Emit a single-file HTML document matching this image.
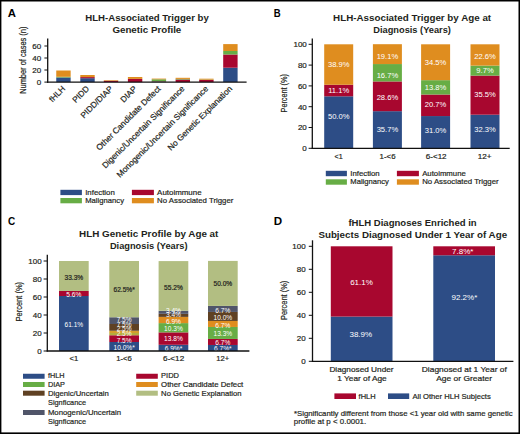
<!DOCTYPE html>
<html><head><meta charset="utf-8"><style>
html,body{margin:0;padding:0;background:#fff;}
body{width:520px;height:434px;overflow:hidden;position:relative;}
svg{position:absolute;left:0;top:0;display:block;}
text{font-family:"Liberation Sans",sans-serif;}
</style></head><body>
<svg width="520" height="434" viewBox="0 0 520 434" font-family="Liberation Sans, sans-serif">
<rect x="0" y="0" width="520" height="434" fill="#fff"/>
<text x="7.80" y="16.60" font-size="10.8" font-weight="bold" fill="#000" text-anchor="start" textLength="8.20" lengthAdjust="spacingAndGlyphs">A</text>
<text x="273.70" y="16.60" font-size="10.8" font-weight="bold" fill="#000" text-anchor="start" textLength="6.90" lengthAdjust="spacingAndGlyphs">B</text>
<text x="8.00" y="224.60" font-size="10.8" font-weight="bold" fill="#000" text-anchor="start" textLength="7.20" lengthAdjust="spacingAndGlyphs">C</text>
<text x="273.70" y="224.60" font-size="10.8" font-weight="bold" fill="#000" text-anchor="start" textLength="8.40" lengthAdjust="spacingAndGlyphs">D</text>
<text x="85.30" y="21.20" font-size="8.8" font-weight="bold" fill="#231F20" text-anchor="start" textLength="123.50" lengthAdjust="spacingAndGlyphs">HLH-Associated Trigger by</text>
<text x="112.40" y="32.60" font-size="8.8" font-weight="bold" fill="#231F20" text-anchor="start" textLength="68.90" lengthAdjust="spacingAndGlyphs">Genetic Profile</text>
<text x="333.10" y="21.30" font-size="8.8" font-weight="bold" fill="#231F20" text-anchor="start" textLength="158.00" lengthAdjust="spacingAndGlyphs">HLH-Associated Trigger by Age at</text>
<text x="373.30" y="32.80" font-size="8.8" font-weight="bold" fill="#231F20" text-anchor="start" textLength="77.60" lengthAdjust="spacingAndGlyphs">Diagnosis (Years)</text>
<text x="79.10" y="237.30" font-size="8.8" font-weight="bold" fill="#231F20" text-anchor="start" textLength="139.30" lengthAdjust="spacingAndGlyphs">HLH Genetic Profile by Age at</text>
<text x="109.90" y="248.90" font-size="8.8" font-weight="bold" fill="#231F20" text-anchor="start" textLength="77.70" lengthAdjust="spacingAndGlyphs">Diagnosis (Years)</text>
<text x="348.40" y="225.50" font-size="8.8" font-weight="bold" fill="#231F20" text-anchor="start" textLength="128.30" lengthAdjust="spacingAndGlyphs">fHLH Diagnoses Enriched in</text>
<text x="318.40" y="237.60" font-size="8.8" font-weight="bold" fill="#231F20" text-anchor="start" textLength="188.70" lengthAdjust="spacingAndGlyphs">Subjects Diagnosed Under 1 Year of Age</text>
<rect x="56.25" y="77.50" width="14.40" height="4.60" fill="#2D4D86"/>
<rect x="56.25" y="76.80" width="14.40" height="0.70" fill="#67AD45"/>
<rect x="56.25" y="70.50" width="14.40" height="6.30" fill="#DF8D1F"/>
<rect x="80.30" y="78.20" width="14.40" height="3.90" fill="#2D4D86"/>
<rect x="80.30" y="77.10" width="14.40" height="1.10" fill="#A8072F"/>
<rect x="80.30" y="75.00" width="14.40" height="2.10" fill="#DF8D1F"/>
<rect x="103.80" y="80.80" width="14.40" height="1.30" fill="#A8072F"/>
<rect x="103.80" y="80.20" width="14.40" height="0.60" fill="#DF8D1F"/>
<rect x="127.90" y="78.90" width="14.40" height="3.20" fill="#A8072F"/>
<rect x="127.90" y="77.00" width="14.40" height="1.90" fill="#DF8D1F"/>
<rect x="151.70" y="81.70" width="14.40" height="0.40" fill="#2D4D86"/>
<rect x="151.70" y="81.30" width="14.40" height="0.40" fill="#A8072F"/>
<rect x="151.70" y="79.30" width="14.40" height="2.00" fill="#67AD45"/>
<rect x="151.70" y="78.60" width="14.40" height="0.70" fill="#DF8D1F"/>
<rect x="175.60" y="79.50" width="14.40" height="2.60" fill="#A8072F"/>
<rect x="175.60" y="78.90" width="14.40" height="0.60" fill="#67AD45"/>
<rect x="175.60" y="77.80" width="14.40" height="1.10" fill="#DF8D1F"/>
<rect x="199.20" y="79.90" width="14.40" height="2.20" fill="#A8072F"/>
<rect x="199.20" y="79.60" width="14.40" height="0.30" fill="#67AD45"/>
<rect x="199.20" y="78.70" width="14.40" height="0.90" fill="#DF8D1F"/>
<rect x="223.20" y="67.70" width="14.40" height="14.40" fill="#2D4D86"/>
<rect x="223.20" y="54.50" width="14.40" height="13.20" fill="#A8072F"/>
<rect x="223.20" y="51.00" width="14.40" height="3.50" fill="#67AD45"/>
<rect x="223.20" y="44.10" width="14.40" height="6.90" fill="#DF8D1F"/>
<line x1="47.7" y1="38.6" x2="47.7" y2="82.8" stroke="#111111" stroke-width="1.3"/>
<line x1="47.0" y1="82.1" x2="246.6" y2="82.1" stroke="#111111" stroke-width="1.3"/>
<line x1="44.4" y1="46" x2="47.7" y2="46" stroke="#111111" stroke-width="1.0"/>
<text x="41.20" y="48.90" font-size="8" fill="#231F20" stroke="#231F20" stroke-width="0.2" text-anchor="end">60</text>
<line x1="44.4" y1="58" x2="47.7" y2="58" stroke="#111111" stroke-width="1.0"/>
<text x="41.20" y="60.90" font-size="8" fill="#231F20" stroke="#231F20" stroke-width="0.2" text-anchor="end">40</text>
<line x1="44.4" y1="70" x2="47.7" y2="70" stroke="#111111" stroke-width="1.0"/>
<text x="41.20" y="72.90" font-size="8" fill="#231F20" stroke="#231F20" stroke-width="0.2" text-anchor="end">20</text>
<line x1="44.4" y1="82.1" x2="47.7" y2="82.1" stroke="#111111" stroke-width="1.0"/>
<text x="41.20" y="85.00" font-size="8" fill="#231F20" stroke="#231F20" stroke-width="0.2" text-anchor="end">0</text>
<text transform="translate(26.30,60.20) rotate(-90)" x="0" y="0" font-size="8.5" fill="#231F20" stroke="#231F20" stroke-width="0.2" text-anchor="middle" textLength="67.20" lengthAdjust="spacingAndGlyphs">Number of cases (n)</text>
<text transform="translate(65.75,89.30) rotate(-45)" x="0" y="0" font-size="8.3" fill="#231F20" stroke="#231F20" stroke-width="0.2" text-anchor="end">fHLH</text>
<text transform="translate(89.80,89.30) rotate(-45)" x="0" y="0" font-size="8.3" fill="#231F20" stroke="#231F20" stroke-width="0.2" text-anchor="end">PIDD</text>
<text transform="translate(113.30,89.30) rotate(-45)" x="0" y="0" font-size="8.3" fill="#231F20" stroke="#231F20" stroke-width="0.2" text-anchor="end">PIDD/DIAP</text>
<text transform="translate(137.40,89.30) rotate(-45)" x="0" y="0" font-size="8.3" fill="#231F20" stroke="#231F20" stroke-width="0.2" text-anchor="end">DIAP</text>
<text transform="translate(161.20,89.30) rotate(-45)" x="0" y="0" font-size="8.3" fill="#231F20" stroke="#231F20" stroke-width="0.2" text-anchor="end">Other Candidate Defect</text>
<text transform="translate(185.10,89.30) rotate(-45)" x="0" y="0" font-size="8.3" fill="#231F20" stroke="#231F20" stroke-width="0.2" text-anchor="end">Digenic/Uncertain Significance</text>
<text transform="translate(208.70,89.30) rotate(-45)" x="0" y="0" font-size="8.3" fill="#231F20" stroke="#231F20" stroke-width="0.2" text-anchor="end">Monogenic/Uncertain Significance</text>
<text transform="translate(232.70,89.30) rotate(-45)" x="0" y="0" font-size="8.3" fill="#231F20" stroke="#231F20" stroke-width="0.2" text-anchor="end">No Genetic Explanation</text>
<rect x="60.40" y="189.80" width="21.50" height="5.30" fill="#2D4D86"/>
<rect x="60.40" y="198.00" width="21.50" height="5.30" fill="#67AD45"/>
<rect x="131.90" y="189.80" width="22.00" height="5.30" fill="#A8072F"/>
<rect x="131.90" y="198.00" width="22.00" height="5.30" fill="#DF8D1F"/>
<text x="85.20" y="194.70" font-size="7.9" fill="#231F20" stroke="#231F20" stroke-width="0.2" text-anchor="start" textLength="29.60" lengthAdjust="spacingAndGlyphs">Infection</text>
<text x="85.20" y="203.00" font-size="7.9" fill="#231F20" stroke="#231F20" stroke-width="0.2" text-anchor="start" textLength="38.80" lengthAdjust="spacingAndGlyphs">Malignancy</text>
<text x="157.10" y="194.70" font-size="7.9" fill="#231F20" stroke="#231F20" stroke-width="0.2" text-anchor="start" textLength="44.50" lengthAdjust="spacingAndGlyphs">Autoimmune</text>
<text x="157.10" y="203.00" font-size="7.9" fill="#231F20" stroke="#231F20" stroke-width="0.2" text-anchor="start" textLength="76.30" lengthAdjust="spacingAndGlyphs">No Associated Trigger</text>
<rect x="324.20" y="96.30" width="29.00" height="52.00" fill="#2D4D86"/>
<rect x="324.20" y="84.76" width="29.00" height="11.54" fill="#A8072F"/>
<rect x="324.20" y="44.30" width="29.00" height="40.46" fill="#DF8D1F"/>
<text x="338.70" y="119.40" font-size="7.6" fill="#fff" text-anchor="middle">50.0%</text>
<text x="338.70" y="92.80" font-size="7.6" fill="#fff" text-anchor="middle">11.1%</text>
<text x="338.70" y="66.70" font-size="7.6" fill="#fff" text-anchor="middle">38.9%</text>
<rect x="372.90" y="111.17" width="29.00" height="37.13" fill="#2D4D86"/>
<rect x="372.90" y="81.43" width="29.00" height="29.74" fill="#A8072F"/>
<rect x="372.90" y="64.06" width="29.00" height="17.37" fill="#67AD45"/>
<rect x="372.90" y="44.20" width="29.00" height="19.86" fill="#DF8D1F"/>
<text x="387.40" y="131.80" font-size="7.6" fill="#fff" text-anchor="middle">35.7%</text>
<text x="387.40" y="100.40" font-size="7.6" fill="#fff" text-anchor="middle">28.6%</text>
<text x="387.40" y="78.10" font-size="7.6" fill="#fff" text-anchor="middle">16.7%</text>
<text x="387.40" y="59.20" font-size="7.6" fill="#fff" text-anchor="middle">19.1%</text>
<rect x="421.10" y="116.06" width="29.00" height="32.24" fill="#2D4D86"/>
<rect x="421.10" y="94.53" width="29.00" height="21.53" fill="#A8072F"/>
<rect x="421.10" y="80.18" width="29.00" height="14.35" fill="#67AD45"/>
<rect x="421.10" y="44.30" width="29.00" height="35.88" fill="#DF8D1F"/>
<text x="435.60" y="133.20" font-size="7.6" fill="#fff" text-anchor="middle">31.0%</text>
<text x="435.60" y="107.30" font-size="7.6" fill="#fff" text-anchor="middle">20.7%</text>
<text x="435.60" y="89.60" font-size="7.6" fill="#fff" text-anchor="middle">13.8%</text>
<text x="435.60" y="65.00" font-size="7.6" fill="#fff" text-anchor="middle">34.5%</text>
<rect x="470.50" y="114.70" width="29.00" height="33.60" fill="#2D4D86"/>
<rect x="470.50" y="75.60" width="29.00" height="39.10" fill="#A8072F"/>
<rect x="470.50" y="65.60" width="29.00" height="10.00" fill="#67AD45"/>
<rect x="470.50" y="44.30" width="29.00" height="21.30" fill="#DF8D1F"/>
<text x="485.00" y="131.90" font-size="7.6" fill="#fff" text-anchor="middle">32.3%</text>
<text x="485.00" y="97.20" font-size="7.6" fill="#fff" text-anchor="middle">35.5%</text>
<text x="485.00" y="73.30" font-size="7.6" fill="#fff" text-anchor="middle">9.7%</text>
<text x="485.00" y="59.20" font-size="7.6" fill="#fff" text-anchor="middle">22.6%</text>
<line x1="312.3" y1="38.5" x2="312.3" y2="148.9" stroke="#111111" stroke-width="1.3"/>
<line x1="311.7" y1="148.3" x2="509.7" y2="148.3" stroke="#111111" stroke-width="1.3"/>
<line x1="308.6" y1="148.3" x2="312.3" y2="148.3" stroke="#111111" stroke-width="1.0"/>
<text x="306.80" y="151.20" font-size="8" fill="#231F20" stroke="#231F20" stroke-width="0.2" text-anchor="end">0</text>
<line x1="308.6" y1="127.50000000000001" x2="312.3" y2="127.50000000000001" stroke="#111111" stroke-width="1.0"/>
<text x="306.80" y="130.40" font-size="8" fill="#231F20" stroke="#231F20" stroke-width="0.2" text-anchor="end">20</text>
<line x1="308.6" y1="106.70000000000002" x2="312.3" y2="106.70000000000002" stroke="#111111" stroke-width="1.0"/>
<text x="306.80" y="109.60" font-size="8" fill="#231F20" stroke="#231F20" stroke-width="0.2" text-anchor="end">40</text>
<line x1="308.6" y1="85.9" x2="312.3" y2="85.9" stroke="#111111" stroke-width="1.0"/>
<text x="306.80" y="88.80" font-size="8" fill="#231F20" stroke="#231F20" stroke-width="0.2" text-anchor="end">60</text>
<line x1="308.6" y1="65.10000000000001" x2="312.3" y2="65.10000000000001" stroke="#111111" stroke-width="1.0"/>
<text x="306.80" y="68.00" font-size="8" fill="#231F20" stroke="#231F20" stroke-width="0.2" text-anchor="end">80</text>
<line x1="308.6" y1="44.30000000000001" x2="312.3" y2="44.30000000000001" stroke="#111111" stroke-width="1.0"/>
<text x="306.80" y="47.20" font-size="8" fill="#231F20" stroke="#231F20" stroke-width="0.2" text-anchor="end">100</text>
<text transform="translate(287.30,93.30) rotate(-90)" x="0" y="0" font-size="9.0" fill="#231F20" stroke="#231F20" stroke-width="0.2" text-anchor="middle" textLength="38.20" lengthAdjust="spacingAndGlyphs">Percent (%)</text>
<text x="334.60" y="158.70" font-size="8" fill="#231F20" stroke="#231F20" stroke-width="0.2" text-anchor="start" textLength="8.10" lengthAdjust="spacingAndGlyphs">&lt;1</text>
<text x="379.60" y="158.70" font-size="8" fill="#231F20" stroke="#231F20" stroke-width="0.2" text-anchor="start" textLength="16.00" lengthAdjust="spacingAndGlyphs">1-&lt;6</text>
<text x="425.80" y="158.70" font-size="8" fill="#231F20" stroke="#231F20" stroke-width="0.2" text-anchor="start" textLength="20.80" lengthAdjust="spacingAndGlyphs">6-&lt;12</text>
<text x="477.80" y="158.70" font-size="8" fill="#231F20" stroke="#231F20" stroke-width="0.2" text-anchor="start" textLength="13.80" lengthAdjust="spacingAndGlyphs">12+</text>
<rect x="325.80" y="170.80" width="21.10" height="5.40" fill="#2D4D86"/>
<rect x="325.80" y="179.30" width="21.10" height="5.40" fill="#67AD45"/>
<rect x="396.90" y="170.80" width="22.00" height="5.40" fill="#A8072F"/>
<rect x="396.90" y="179.30" width="22.00" height="5.40" fill="#DF8D1F"/>
<text x="350.30" y="176.20" font-size="7.9" fill="#231F20" stroke="#231F20" stroke-width="0.2" text-anchor="start" textLength="29.40" lengthAdjust="spacingAndGlyphs">Infection</text>
<text x="350.30" y="184.20" font-size="7.9" fill="#231F20" stroke="#231F20" stroke-width="0.2" text-anchor="start" textLength="38.60" lengthAdjust="spacingAndGlyphs">Malignancy</text>
<text x="422.20" y="176.20" font-size="7.9" fill="#231F20" stroke="#231F20" stroke-width="0.2" text-anchor="start" textLength="43.60" lengthAdjust="spacingAndGlyphs">Autoimmune</text>
<text x="422.20" y="184.20" font-size="7.9" fill="#231F20" stroke="#231F20" stroke-width="0.2" text-anchor="start" textLength="76.40" lengthAdjust="spacingAndGlyphs">No Associated Trigger</text>
<rect x="59.00" y="296.01" width="29.70" height="54.99" fill="#2D4D86"/>
<rect x="59.00" y="290.97" width="29.70" height="5.04" fill="#A8072F"/>
<rect x="59.00" y="261.00" width="29.70" height="29.97" fill="#B2BE82"/>
<text x="73.85" y="327.00" font-size="6.6" fill="#fff" text-anchor="middle">61.1%</text>
<text x="73.85" y="296.60" font-size="6.6" fill="#fff" text-anchor="middle">5.6%</text>
<text x="73.85" y="280.40" font-size="6.6" fill="#231F20" stroke="#231F20" stroke-width="0.2" text-anchor="middle">33.3%</text>
<rect x="109.30" y="342.00" width="29.70" height="9.00" fill="#2D4D86"/>
<rect x="109.30" y="335.25" width="29.70" height="6.75" fill="#A8072F"/>
<rect x="109.30" y="333.00" width="29.70" height="2.25" fill="#B3AE3E"/>
<rect x="109.30" y="330.75" width="29.70" height="2.25" fill="#D49E2C"/>
<rect x="109.30" y="324.00" width="29.70" height="6.75" fill="#5F4123"/>
<rect x="109.30" y="317.25" width="29.70" height="6.75" fill="#505569"/>
<rect x="109.30" y="261.00" width="29.70" height="56.25" fill="#B2BE82"/>
<text x="124.15" y="349.60" font-size="6.6" fill="#fff" text-anchor="middle">10.0%*</text>
<text x="124.15" y="343.10" font-size="6.6" fill="#fff" text-anchor="middle">7.5%</text>
<text x="124.15" y="335.70" font-size="6.6" fill="#fff" text-anchor="middle">2.5%</text>
<text x="124.15" y="331.10" font-size="6.6" fill="#fff" text-anchor="middle">2.5%</text>
<text x="124.15" y="326.50" font-size="6.6" fill="#fff" text-anchor="middle">7.5%</text>
<text x="124.15" y="321.90" font-size="6.6" fill="#fff" text-anchor="middle">7.5%</text>
<text x="124.15" y="292.00" font-size="6.6" fill="#231F20" stroke="#231F20" stroke-width="0.2" text-anchor="middle">62.5%*</text>
<rect x="158.60" y="344.79" width="29.70" height="6.21" fill="#2D4D86"/>
<rect x="158.60" y="332.37" width="29.70" height="12.42" fill="#A8072F"/>
<rect x="158.60" y="323.10" width="29.70" height="9.27" fill="#67AD45"/>
<rect x="158.60" y="316.89" width="29.70" height="6.21" fill="#DF8D1F"/>
<rect x="158.60" y="313.83" width="29.70" height="3.06" fill="#5F4123"/>
<rect x="158.60" y="310.77" width="29.70" height="3.06" fill="#505569"/>
<rect x="158.60" y="261.09" width="29.70" height="49.68" fill="#B2BE82"/>
<text x="173.45" y="350.70" font-size="6.6" fill="#fff" text-anchor="middle">6.9%*</text>
<text x="173.45" y="340.80" font-size="6.6" fill="#fff" text-anchor="middle">13.8%</text>
<text x="173.45" y="331.10" font-size="6.6" fill="#fff" text-anchor="middle">10.3%</text>
<text x="173.45" y="324.20" font-size="6.6" fill="#fff" text-anchor="middle">6.9%</text>
<text x="173.45" y="316.80" font-size="6.6" fill="#fff" text-anchor="middle">3.4%</text>
<text x="173.45" y="312.70" font-size="6.6" fill="#fff" text-anchor="middle">3.4%</text>
<text x="173.45" y="289.70" font-size="6.6" fill="#231F20" stroke="#231F20" stroke-width="0.2" text-anchor="middle">55.2%</text>
<rect x="208.00" y="344.97" width="29.70" height="6.03" fill="#2D4D86"/>
<rect x="208.00" y="338.94" width="29.70" height="6.03" fill="#A8072F"/>
<rect x="208.00" y="326.97" width="29.70" height="11.97" fill="#67AD45"/>
<rect x="208.00" y="320.94" width="29.70" height="6.03" fill="#DF8D1F"/>
<rect x="208.00" y="311.94" width="29.70" height="9.00" fill="#5F4123"/>
<rect x="208.00" y="305.91" width="29.70" height="6.03" fill="#505569"/>
<rect x="208.00" y="260.91" width="29.70" height="45.00" fill="#B2BE82"/>
<text x="222.85" y="350.70" font-size="6.6" fill="#fff" text-anchor="middle">6.7%*</text>
<text x="222.85" y="345.00" font-size="6.6" fill="#fff" text-anchor="middle">6.7%</text>
<text x="222.85" y="335.70" font-size="6.6" fill="#fff" text-anchor="middle">13.3%</text>
<text x="222.85" y="327.70" font-size="6.6" fill="#fff" text-anchor="middle">6.7%</text>
<text x="222.85" y="319.60" font-size="6.6" fill="#fff" text-anchor="middle">10.0%</text>
<text x="222.85" y="312.70" font-size="6.6" fill="#fff" text-anchor="middle">6.7%</text>
<text x="222.85" y="286.20" font-size="6.6" fill="#231F20" stroke="#231F20" stroke-width="0.2" text-anchor="middle">50.0%</text>
<line x1="47.3" y1="254.8" x2="47.3" y2="351.6" stroke="#111111" stroke-width="1.3"/>
<line x1="46.7" y1="351.0" x2="249.4" y2="351.0" stroke="#111111" stroke-width="1.3"/>
<line x1="43.6" y1="351.0" x2="47.3" y2="351.0" stroke="#111111" stroke-width="1.0"/>
<text x="41.60" y="353.90" font-size="8" fill="#231F20" stroke="#231F20" stroke-width="0.2" text-anchor="end">0</text>
<line x1="43.6" y1="333.0" x2="47.3" y2="333.0" stroke="#111111" stroke-width="1.0"/>
<text x="41.60" y="335.90" font-size="8" fill="#231F20" stroke="#231F20" stroke-width="0.2" text-anchor="end">20</text>
<line x1="43.6" y1="315.0" x2="47.3" y2="315.0" stroke="#111111" stroke-width="1.0"/>
<text x="41.60" y="317.90" font-size="8" fill="#231F20" stroke="#231F20" stroke-width="0.2" text-anchor="end">40</text>
<line x1="43.6" y1="297.0" x2="47.3" y2="297.0" stroke="#111111" stroke-width="1.0"/>
<text x="41.60" y="299.90" font-size="8" fill="#231F20" stroke="#231F20" stroke-width="0.2" text-anchor="end">60</text>
<line x1="43.6" y1="279.0" x2="47.3" y2="279.0" stroke="#111111" stroke-width="1.0"/>
<text x="41.60" y="281.90" font-size="8" fill="#231F20" stroke="#231F20" stroke-width="0.2" text-anchor="end">80</text>
<line x1="43.6" y1="261.0" x2="47.3" y2="261.0" stroke="#111111" stroke-width="1.0"/>
<text x="41.60" y="263.90" font-size="8" fill="#231F20" stroke="#231F20" stroke-width="0.2" text-anchor="end">100</text>
<text transform="translate(21.60,301.70) rotate(-90)" x="0" y="0" font-size="9.0" fill="#231F20" stroke="#231F20" stroke-width="0.2" text-anchor="middle" textLength="39.60" lengthAdjust="spacingAndGlyphs">Percent (%)</text>
<text x="69.50" y="360.70" font-size="8" fill="#231F20" stroke="#231F20" stroke-width="0.2" text-anchor="start" textLength="8.70" lengthAdjust="spacingAndGlyphs">&lt;1</text>
<text x="116.20" y="360.70" font-size="8" fill="#231F20" stroke="#231F20" stroke-width="0.2" text-anchor="start" textLength="15.60" lengthAdjust="spacingAndGlyphs">1-&lt;6</text>
<text x="163.10" y="360.70" font-size="8" fill="#231F20" stroke="#231F20" stroke-width="0.2" text-anchor="start" textLength="21.10" lengthAdjust="spacingAndGlyphs">6-&lt;12</text>
<text x="216.30" y="360.70" font-size="8" fill="#231F20" stroke="#231F20" stroke-width="0.2" text-anchor="start" textLength="12.90" lengthAdjust="spacingAndGlyphs">12+</text>
<rect x="23.00" y="373.75" width="21.60" height="5.00" fill="#2D4D86"/>
<text x="47.90" y="378.40" font-size="7.9" fill="#231F20" stroke="#231F20" stroke-width="0.2" text-anchor="start" textLength="16.60" lengthAdjust="spacingAndGlyphs">fHLH</text>
<rect x="23.00" y="382.00" width="21.60" height="5.00" fill="#67AD45"/>
<text x="47.90" y="386.80" font-size="7.9" fill="#231F20" stroke="#231F20" stroke-width="0.2" text-anchor="start" textLength="17.10" lengthAdjust="spacingAndGlyphs">DIAP</text>
<rect x="23.00" y="390.70" width="21.60" height="5.00" fill="#5F4123"/>
<text x="47.90" y="395.50" font-size="7.9" fill="#231F20" stroke="#231F20" stroke-width="0.2" text-anchor="start" textLength="60.90" lengthAdjust="spacingAndGlyphs">Digenic/Uncertain</text>
<rect x="23.00" y="410.00" width="21.60" height="5.00" fill="#505569"/>
<text x="47.90" y="414.80" font-size="7.9" fill="#231F20" stroke="#231F20" stroke-width="0.2" text-anchor="start" textLength="73.20" lengthAdjust="spacingAndGlyphs">Monogenic/Uncertain</text>
<rect x="136.20" y="373.75" width="21.60" height="5.00" fill="#A8072F"/>
<text x="161.10" y="378.40" font-size="7.9" fill="#231F20" stroke="#231F20" stroke-width="0.2" text-anchor="start" textLength="17.90" lengthAdjust="spacingAndGlyphs">PIDD</text>
<rect x="136.20" y="382.00" width="21.60" height="5.00" fill="#DF8D1F"/>
<text x="161.10" y="386.80" font-size="7.9" fill="#231F20" stroke="#231F20" stroke-width="0.2" text-anchor="start" textLength="82.20" lengthAdjust="spacingAndGlyphs">Other Candidate Defect</text>
<rect x="136.20" y="390.70" width="21.60" height="5.00" fill="#B2BE82"/>
<text x="161.10" y="395.50" font-size="7.9" fill="#231F20" stroke="#231F20" stroke-width="0.2" text-anchor="start" textLength="80.50" lengthAdjust="spacingAndGlyphs">No Genetic Explanation</text>
<text x="48.00" y="405.00" font-size="7.9" fill="#231F20" stroke="#231F20" stroke-width="0.2" text-anchor="start" textLength="38.00" lengthAdjust="spacingAndGlyphs">Signficance</text>
<text x="48.00" y="423.60" font-size="7.9" fill="#231F20" stroke="#231F20" stroke-width="0.2" text-anchor="start" textLength="38.00" lengthAdjust="spacingAndGlyphs">Signficance</text>
<rect x="330.80" y="316.56" width="61.70" height="44.73" fill="#2D4D86"/>
<rect x="330.80" y="246.30" width="61.70" height="70.27" fill="#A8072F"/>
<rect x="433.30" y="255.27" width="61.70" height="106.03" fill="#2D4D86"/>
<rect x="433.30" y="246.30" width="61.70" height="8.97" fill="#A8072F"/>
<text x="361.50" y="284.90" font-size="8.0" fill="#fff" text-anchor="middle">61.1%</text>
<text x="360.80" y="337.20" font-size="8.0" fill="#fff" text-anchor="middle">38.9%</text>
<text x="462.70" y="254.20" font-size="8.0" fill="#fff" text-anchor="middle">7.8%*</text>
<text x="464.40" y="299.50" font-size="8.0" fill="#fff" text-anchor="middle">92.2%*</text>
<line x1="312.5" y1="240.3" x2="312.5" y2="361.90000000000003" stroke="#111111" stroke-width="1.3"/>
<line x1="311.9" y1="361.3" x2="513.4" y2="361.3" stroke="#111111" stroke-width="1.3"/>
<line x1="308.8" y1="361.3" x2="312.5" y2="361.3" stroke="#111111" stroke-width="1.0"/>
<text x="305.60" y="364.20" font-size="8" fill="#231F20" stroke="#231F20" stroke-width="0.2" text-anchor="end">0</text>
<line x1="308.8" y1="338.3" x2="312.5" y2="338.3" stroke="#111111" stroke-width="1.0"/>
<text x="305.60" y="341.20" font-size="8" fill="#231F20" stroke="#231F20" stroke-width="0.2" text-anchor="end">20</text>
<line x1="308.8" y1="315.3" x2="312.5" y2="315.3" stroke="#111111" stroke-width="1.0"/>
<text x="305.60" y="318.20" font-size="8" fill="#231F20" stroke="#231F20" stroke-width="0.2" text-anchor="end">40</text>
<line x1="308.8" y1="292.3" x2="312.5" y2="292.3" stroke="#111111" stroke-width="1.0"/>
<text x="305.60" y="295.20" font-size="8" fill="#231F20" stroke="#231F20" stroke-width="0.2" text-anchor="end">60</text>
<line x1="308.8" y1="269.3" x2="312.5" y2="269.3" stroke="#111111" stroke-width="1.0"/>
<text x="305.60" y="272.20" font-size="8" fill="#231F20" stroke="#231F20" stroke-width="0.2" text-anchor="end">80</text>
<line x1="308.8" y1="246.3" x2="312.5" y2="246.3" stroke="#111111" stroke-width="1.0"/>
<text x="305.60" y="249.20" font-size="8" fill="#231F20" stroke="#231F20" stroke-width="0.2" text-anchor="end">100</text>
<text transform="translate(287.30,300.40) rotate(-90)" x="0" y="0" font-size="9.0" fill="#231F20" stroke="#231F20" stroke-width="0.2" text-anchor="middle" textLength="39.20" lengthAdjust="spacingAndGlyphs">Percent (%)</text>
<text x="329.40" y="371.80" font-size="7.9" fill="#231F20" stroke="#231F20" stroke-width="0.2" text-anchor="start" textLength="64.20" lengthAdjust="spacingAndGlyphs">Diagnosed Under</text>
<text x="337.20" y="380.50" font-size="7.9" fill="#231F20" stroke="#231F20" stroke-width="0.2" text-anchor="start" textLength="49.50" lengthAdjust="spacingAndGlyphs">1 Year of Age</text>
<text x="421.80" y="371.80" font-size="7.9" fill="#231F20" stroke="#231F20" stroke-width="0.2" text-anchor="start" textLength="85.00" lengthAdjust="spacingAndGlyphs">Diagnosed at 1 Year of</text>
<text x="436.20" y="380.50" font-size="7.9" fill="#231F20" stroke="#231F20" stroke-width="0.2" text-anchor="start" textLength="55.80" lengthAdjust="spacingAndGlyphs">Age or Greater</text>
<rect x="334.40" y="393.40" width="21.60" height="5.60" fill="#A8072F"/>
<rect x="388.00" y="393.40" width="21.20" height="5.60" fill="#2D4D86"/>
<text x="358.60" y="399.00" font-size="7.9" fill="#231F20" stroke="#231F20" stroke-width="0.2" text-anchor="start" textLength="17.00" lengthAdjust="spacingAndGlyphs">fHLH</text>
<text x="412.40" y="399.00" font-size="7.9" fill="#231F20" stroke="#231F20" stroke-width="0.2" text-anchor="start" textLength="78.40" lengthAdjust="spacingAndGlyphs">All Other HLH Subjects</text>
<text x="294.00" y="415.80" font-size="7.9" fill="#231F20" stroke="#231F20" stroke-width="0.2" text-anchor="start" textLength="218.70" lengthAdjust="spacingAndGlyphs">*Significantly different from those &lt;1 year old with same genetic</text>
<text x="293.80" y="424.40" font-size="7.9" fill="#231F20" stroke="#231F20" stroke-width="0.2" text-anchor="start" textLength="72.40" lengthAdjust="spacingAndGlyphs">profile at p &lt; 0.0001.</text>
<rect x="0" y="0" width="520" height="1.5" fill="#000"/>
<rect x="0" y="0" width="1.4" height="434" fill="#000"/>
<rect x="518.5" y="0" width="1.5" height="434" fill="#000"/>
<rect x="0" y="432.4" width="520" height="1.6" fill="#000"/>
</svg>
</body></html>
